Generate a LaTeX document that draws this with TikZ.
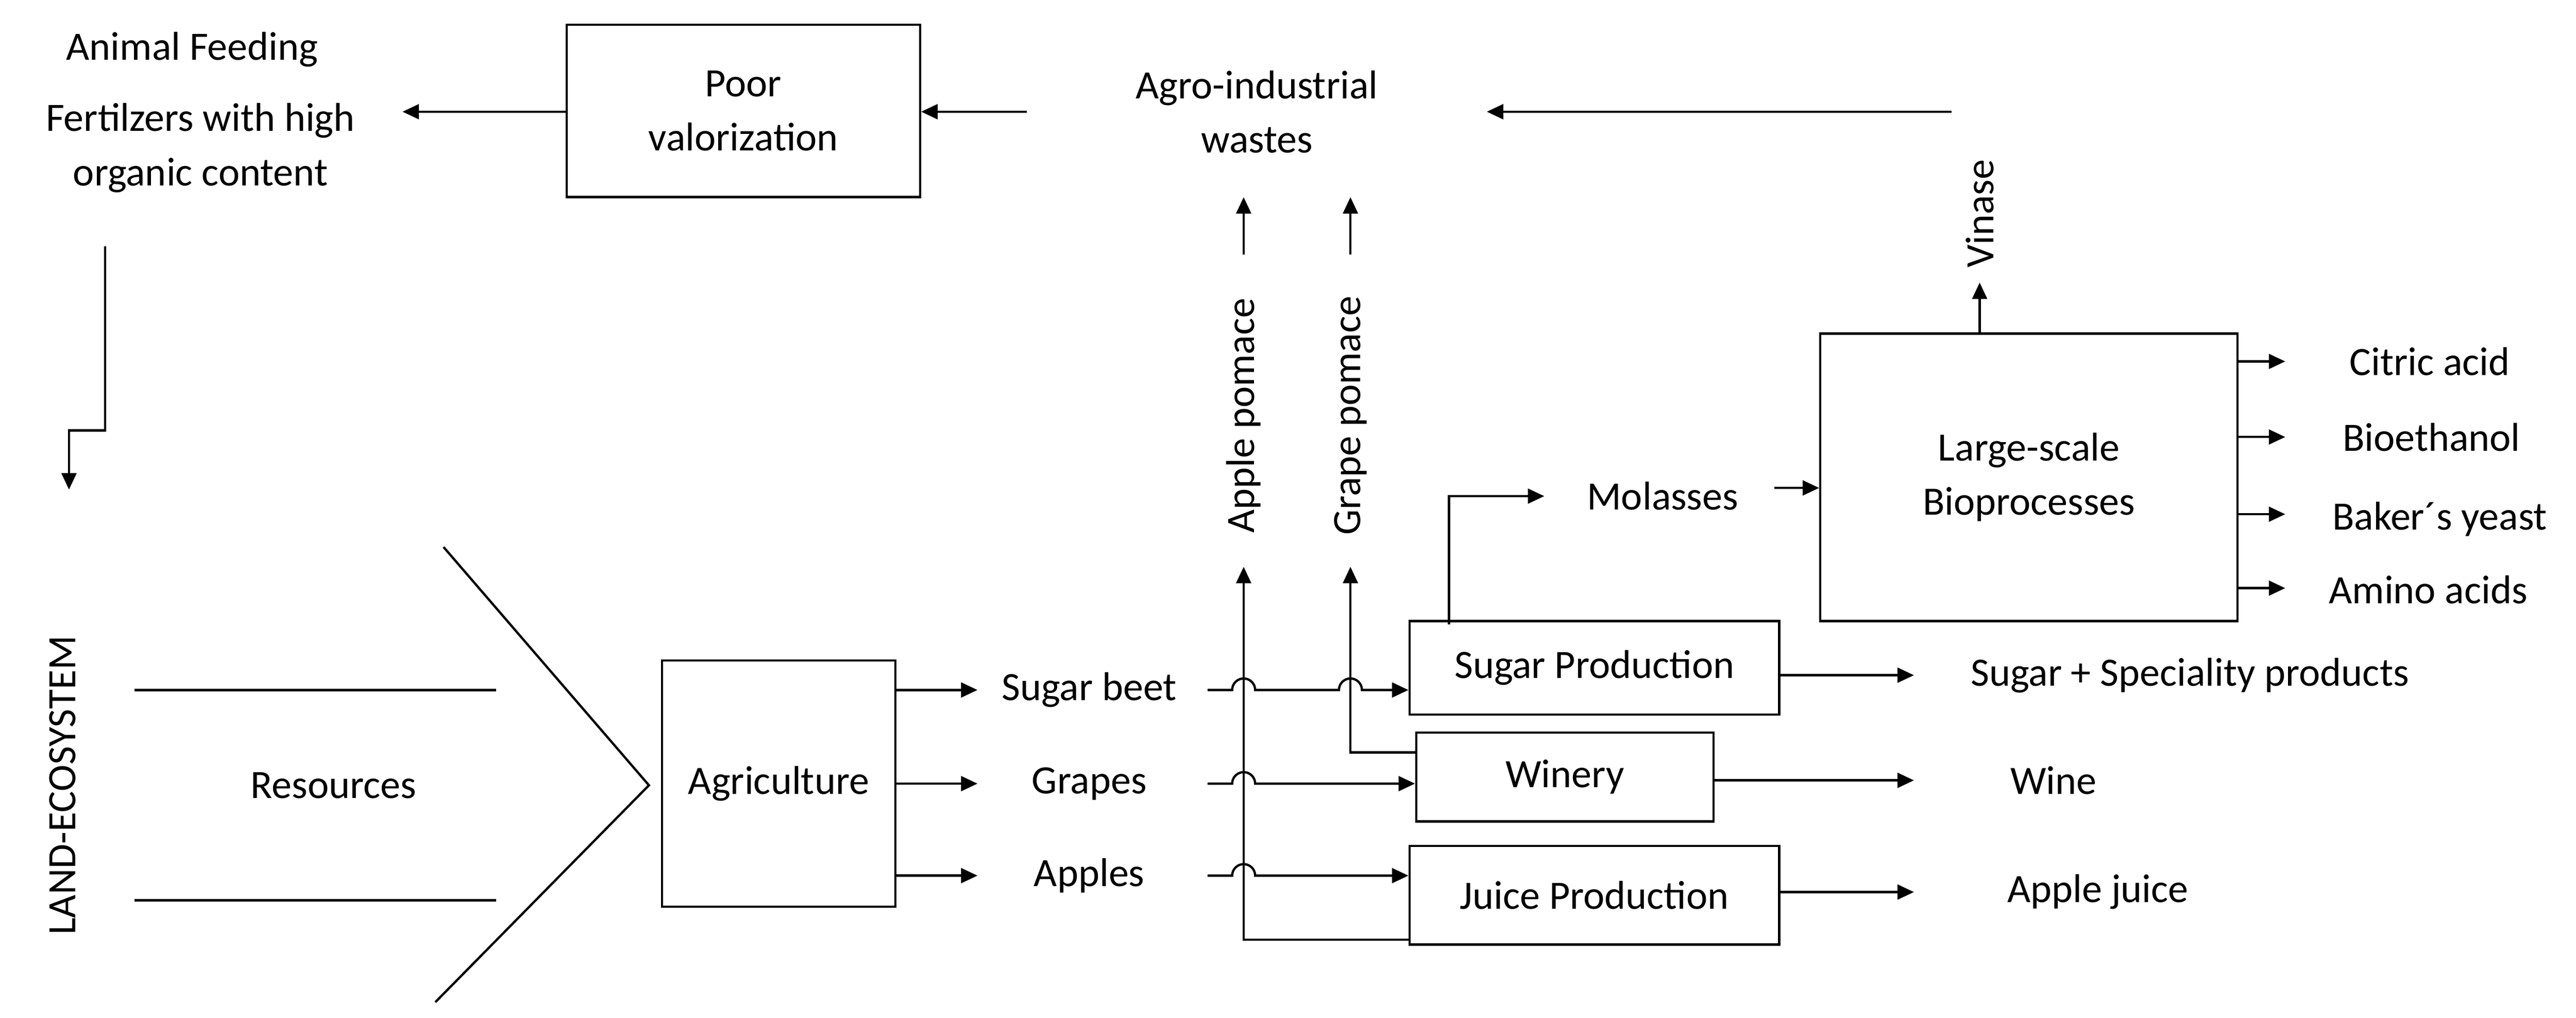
\documentclass[tikz,border=0pt]{standalone}
\usepackage{fontspec}
\setmainfont{Carlito}
\usetikzlibrary{arrows.meta}
\begin{document}
\begin{tikzpicture}[x=1pt,y=-1pt,line width=1.4pt,
  box/.style={draw,rectangle,inner sep=0pt,align=center},
  lbl/.style={inner sep=1pt,align=center},
  arr/.style={-{Triangle[length=10pt,width=9pt]}},
  every node/.style={font=\fontsize{24.5}{33}\selectfont}]
\useasboundingbox (0,0) rectangle (1568,619.6);
% top
\node[lbl] (af) at (117,30) {Animal Feeding};
\node[lbl] (fe) at (122,90) {Fertilzers with high\\organic content};
\node[box,minimum width=215pt,minimum height=105pt] (poor) at (452.5,67.5) {Poor\\valorization};
\node[lbl] (agro) at (765,68) {Agro-industrial\\wastes};
\coordinate (feL) at (245,68);
\draw[arr] (poor.west|-0,68) -- (feL);
\coordinate (agL) at (625,68);
\draw[arr] (agL) -- (poor.east|-0,68);
\coordinate (vR) at (1188,68);
\coordinate (vL) at (905,68);
\draw[arr] (vR) -- (vL);
\coordinate (f1) at (64,150); \coordinate (f2) at (42,298);
\draw[arr] (f1) -- (64,262) -- (42,262) -- (f2);
% left
\node[lbl,rotate=90] (land) at (38,478) {LAND-ECOSYSTEM};
\node[lbl] (res) at (203,478) {Resources};
\coordinate (r1) at (82,420); \coordinate (r2) at (302,420);
\coordinate (r3) at (82,548); \coordinate (r4) at (302,548);
\draw (r1) -- (r2); \draw (r3) -- (r4);
\coordinate (c1) at (270,333); \coordinate (c2) at (395,478); \coordinate (c3) at (265,610);
\draw (c1) -- (c2) -- (c3);
\node[box,minimum width=142pt,minimum height=150pt] (agri) at (474,477) {Agriculture};
\node[lbl] (sb) at (663,420) {Sugar beet};
\node[lbl] (gr) at (663,477) {Grapes};
\node[lbl] (ap) at (663,533) {Apples};
\foreach \y/\n in {420/sb,477/gr,533/ap}{\draw[arr] (agri.east|-0,\y) -- (595,\y);}
% processing boxes
\node[box,minimum width=225pt,minimum height=57pt] (sugar) at (970.5,406.5) {Sugar Production};
\node[box,minimum width=181pt,minimum height=54pt] (win) at (952.5,473) {Winery};
\node[box,minimum width=225pt,minimum height=60pt] (juice) at (970.5,545) {Juice Production};
% hops
\draw[arr] (735,420) -- (750,420) arc[start angle=180,end angle=0,radius=7pt] -- (815,420) arc[start angle=180,end angle=0,radius=7pt] -- (sugar.west|-0,420);
\draw[arr] (735,477) -- (750,477) arc[start angle=180,end angle=0,radius=7pt] -- (win.west|-0,477);
\draw[arr] (735,533) -- (750,533) arc[start angle=180,end angle=0,radius=7pt] -- (juice.west|-0,533);
% pomaces
\draw[arr] (juice.west|-0,572) -- (757,572) -- (757,345);
\draw[arr] (win.west|-0,458) -- (822,458) -- (822,345);
\node[lbl,rotate=90] (apm) at (757,253) {Apple pomace};
\node[lbl,rotate=90] (gpm) at (822,253) {Grape pomace};
\draw[arr] (757,155) -- (757,120);
\draw[arr] (822,155) -- (822,120);
% outputs
\node[lbl] (sp) at (1333,411) {Sugar + Speciality products};
\node[lbl] (wine) at (1250,475) {Wine};
\node[lbl] (aj) at (1277,543) {Apple juice};
\draw[arr] (sugar.east|-0,411) -- (1165,411);
\draw[arr] (win.east|-0,475) -- (1165,475);
\draw[arr] (juice.east|-0,543) -- (1165,543);
% molasses
\node[lbl] (mol) at (1012,302) {Molasses};
\draw[arr] (882,380) -- (882,302) -- (940,302);
\node[box,minimum width=254pt,minimum height=175pt] (ls) at (1235,290.5) {Large-scale\\Bioprocesses};
\draw[arr] (1080,297) -- (ls.west|-0,297);
\node[lbl,rotate=90] (vin) at (1205,130) {Vinase};
\draw[arr] (ls.north-|1205,0) -- (1205,172);
\foreach \y/\t in {220/Citric acid,266/Bioethanol,313/Baker´s yeast,358/Amino acids}{
  \draw[arr] (ls.east|-0,\y) -- (1391,\y);}
\node[lbl] (ca) at (1479,220) {Citric acid};
\node[lbl] (be) at (1480,266) {Bioethanol};
\node[lbl] (by) at (1485,316) {Baker´s yeast};
\node[lbl] (aa) at (1478,359) {Amino acids};
\end{tikzpicture}
\end{document}
